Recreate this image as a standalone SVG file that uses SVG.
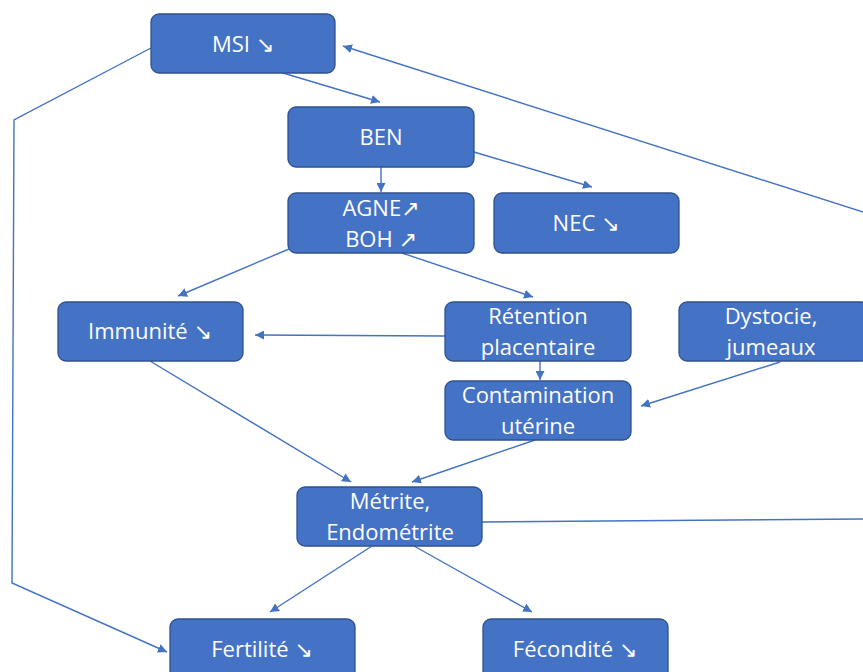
<svg xmlns="http://www.w3.org/2000/svg" width="863" height="672" viewBox="0 0 863 672">
<style>
.box{fill:#4472C4;stroke:#2F528F;stroke-width:1.3}
.t{fill:#fff;font-family:"Open Sans","DejaVu Sans",sans-serif;font-size:22px;text-anchor:middle}
.c{fill:none;stroke:#4472C4;stroke-width:1.4}
</style>
<defs>
<marker id="ah" viewBox="0 0 10 10" refX="10" refY="5" markerWidth="9" markerHeight="9" markerUnits="userSpaceOnUse" orient="auto">
<path d="M0,0 L10,5 L0,10 z" fill="#4472C4"/>
</marker>
</defs>
<rect width="863" height="672" fill="#fff"/>
<g id="connectors">
<line class="c" x1="283" y1="73" x2="380" y2="102" marker-end="url(#ah)"/>
<line class="c" x1="381" y1="167" x2="381" y2="192" marker-end="url(#ah)"/>
<line class="c" x1="474" y1="152" x2="592" y2="187" marker-end="url(#ah)"/>
<line class="c" x1="866" y1="213" x2="343" y2="46" marker-end="url(#ah)"/>
<line class="c" x1="482" y1="522" x2="866" y2="519"/>
<polyline class="c" points="151,48 14,120 12,583 167,652" marker-end="url(#ah)"/>
<line class="c" x1="289" y1="249" x2="178" y2="296" marker-end="url(#ah)"/>
<line class="c" x1="402" y1="253" x2="533" y2="297" marker-end="url(#ah)"/>
<line class="c" x1="445" y1="336" x2="255" y2="335" marker-end="url(#ah)"/>
<line class="c" x1="540" y1="361" x2="540" y2="380" marker-end="url(#ah)"/>
<line class="c" x1="780" y1="362" x2="641" y2="406" marker-end="url(#ah)"/>
<line class="c" x1="150" y1="361" x2="351" y2="482" marker-end="url(#ah)"/>
<line class="c" x1="535" y1="440" x2="412" y2="482" marker-end="url(#ah)"/>
<line class="c" x1="372" y1="546" x2="270" y2="612" marker-end="url(#ah)"/>
<line class="c" x1="414" y1="546" x2="532" y2="612" marker-end="url(#ah)"/>
</g>
<g id="msi"><rect class="box" x="151" y="14" width="184" height="59" rx="8"/><text class="t" x="243" y="52">MSI ↘</text></g>
<g id="ben"><rect class="box" x="288" y="107" width="186" height="60" rx="8"/><text class="t" x="381" y="145">BEN</text></g>
<g id="agne"><rect class="box" x="288" y="193" width="186" height="60" rx="8"/><text class="t" x="381" y="216">AGNE↗</text><text class="t" x="381" y="247">BOH ↗</text></g>
<g id="nec"><rect class="box" x="494" y="193" width="185" height="60" rx="8"/><text class="t" x="586" y="231">NEC ↘</text></g>
<g id="immunite"><rect class="box" x="58" y="302" width="185" height="59" rx="8"/><text class="t" x="150" y="339">Immunité ↘</text></g>
<g id="retention"><rect class="box" x="445" y="302" width="186" height="59" rx="8"/><text class="t" x="538" y="324">Rétention</text><text class="t" x="538" y="355">placentaire</text></g>
<g id="dystocie"><rect class="box" x="679" y="302" width="190" height="59" rx="8"/><text class="t" x="771" y="324">Dystocie,</text><text class="t" x="771" y="355">jumeaux</text></g>
<g id="contamination"><rect class="box" x="445" y="381" width="186" height="59" rx="8"/><text class="t" x="538" y="403">Contamination</text><text class="t" x="538" y="434">utérine</text></g>
<g id="metrite"><rect class="box" x="297" y="487" width="185" height="59" rx="8"/><text class="t" x="390" y="509">Métrite,</text><text class="t" x="390" y="540">Endométrite</text></g>
<g id="fertilite"><rect class="box" x="170" y="619" width="185" height="62" rx="8"/><text class="t" x="262" y="657">Fertilité ↘</text></g>
<g id="fecondite"><rect class="box" x="483" y="619" width="185" height="62" rx="8"/><text class="t" x="575" y="657">Fécondité ↘</text></g>
</svg>
